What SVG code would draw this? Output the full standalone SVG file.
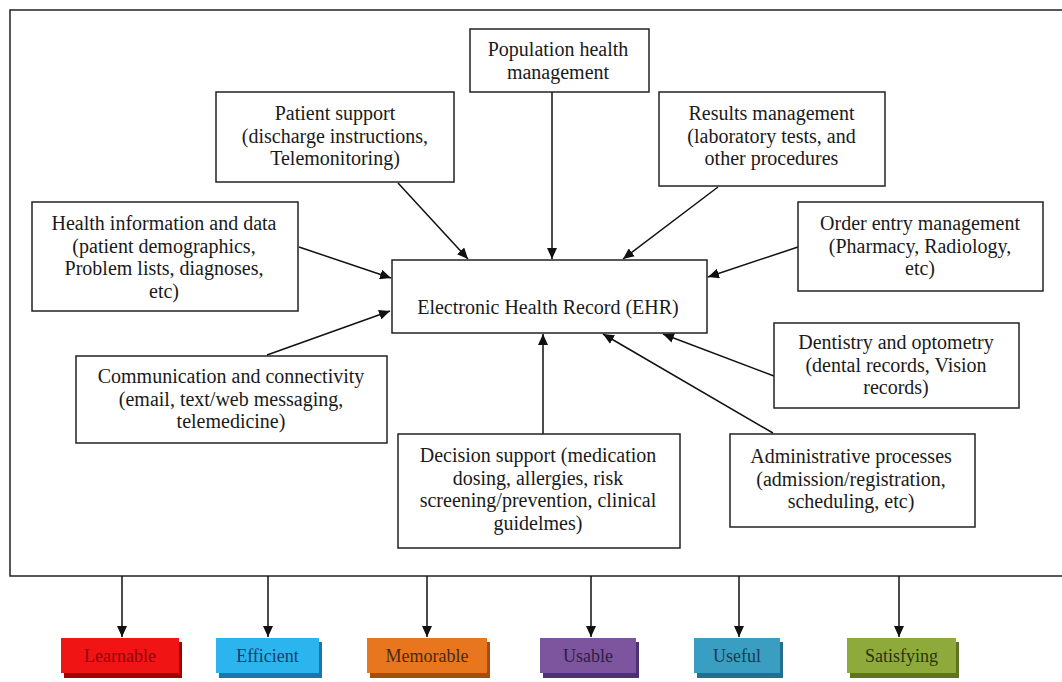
<svg xmlns="http://www.w3.org/2000/svg" width="1062" height="682" viewBox="0 0 1062 682">
<style>
.box{fill:#fff;stroke:#222;stroke-width:1.5}
.t{font-family:"Liberation Serif","Times New Roman",serif;font-size:20px;fill:#1a1a1a;text-anchor:middle}
.c{stroke:#111;stroke-width:1.5;fill:none;marker-end:url(#ah)}
.bt{font-family:"Liberation Serif","Times New Roman",serif;font-size:18px;text-anchor:middle}
</style>
<defs>
<marker id="ah" markerUnits="userSpaceOnUse" markerWidth="12" markerHeight="10" refX="11" refY="5" orient="auto">
<path d="M0,0 L11,5 L0,10 z" fill="#111"/>
</marker>
</defs>
<rect x="0" y="0" width="1062" height="682" fill="#fff"/>
<path d="M1064,10 H10 V576 H1064" fill="none" stroke="#222" stroke-width="1.5"/>

<g id="connectors">
<line class="c" x1="398" y1="183" x2="468" y2="259"/>
<line class="c" x1="552" y1="92" x2="552" y2="259"/>
<line class="c" x1="718" y1="187" x2="623" y2="259"/>
<line class="c" x1="798" y1="247" x2="708" y2="277"/>
<line class="c" x1="299" y1="247" x2="391" y2="278"/>
<line class="c" x1="267" y1="355" x2="390" y2="311"/>
<line class="c" x1="543" y1="434" x2="543" y2="334"/>
<line class="c" x1="773" y1="433" x2="603" y2="334"/>
<line class="c" x1="774" y1="376" x2="663" y2="334"/>
<line class="c" x1="122" y1="576" x2="122" y2="637"/>
<line class="c" x1="268" y1="576" x2="268" y2="637"/>
<line class="c" x1="427" y1="576" x2="427" y2="637"/>
<line class="c" x1="591" y1="576" x2="591" y2="637"/>
<line class="c" x1="739" y1="576" x2="739" y2="637"/>
<line class="c" x1="899" y1="576" x2="899" y2="637"/>
</g>

<g id="ehr">
<rect class="box" x="392" y="260" width="315" height="73"/>
<text class="t" x="548" y="314">Electronic Health Record (EHR)</text>
</g>
<g id="population">
<rect class="box" x="470" y="29" width="179" height="63"/>
<text class="t" x="558" y="56">Population health</text>
<text class="t" x="558" y="78.5">management</text>
</g>
<g id="patient">
<rect class="box" x="216" y="92" width="238" height="90"/>
<text class="t" x="335" y="120">Patient support</text>
<text class="t" x="335" y="142.5">(discharge instructions,</text>
<text class="t" x="335" y="165">Telemonitoring)</text>
</g>
<g id="results">
<rect class="box" x="659" y="92" width="226" height="94"/>
<text class="t" x="771.5" y="120">Results management</text>
<text class="t" x="771.5" y="142.5">(laboratory tests, and</text>
<text class="t" x="771.5" y="165">other procedures</text>
</g>
<g id="healthinfo">
<rect class="box" x="32" y="202" width="266" height="109"/>
<text class="t" x="164" y="230">Health information and data</text>
<text class="t" x="164" y="252.5">(patient demographics,</text>
<text class="t" x="164" y="275">Problem lists, diagnoses,</text>
<text class="t" x="164" y="297.5">etc)</text>
</g>
<g id="orderentry">
<rect class="box" x="798" y="202" width="245" height="89"/>
<text class="t" x="920" y="230">Order entry management</text>
<text class="t" x="920" y="252.5">(Pharmacy, Radiology,</text>
<text class="t" x="920" y="275">etc)</text>
</g>
<g id="communication">
<rect class="box" x="76" y="356" width="311" height="87"/>
<text class="t" x="231" y="383">Communication and connectivity</text>
<text class="t" x="231" y="405.5">(email, text/web messaging,</text>
<text class="t" x="231" y="428">telemedicine)</text>
</g>
<g id="dentistry">
<rect class="box" x="774" y="323" width="245" height="85"/>
<text class="t" x="896" y="349">Dentistry and optometry</text>
<text class="t" x="896" y="371.5">(dental records, Vision</text>
<text class="t" x="896" y="394">records)</text>
</g>
<g id="decision">
<rect class="box" x="398" y="434" width="282" height="114"/>
<text class="t" x="538" y="462">Decision support (medication</text>
<text class="t" x="538" y="484.5">dosing, allergies, risk</text>
<text class="t" x="538" y="507">screening/prevention, clinical</text>
<text class="t" x="538" y="529.5">guidelmes)</text>
</g>
<g id="administrative">
<rect class="box" x="730" y="434" width="245" height="93"/>
<text class="t" x="851" y="463">Administrative processes</text>
<text class="t" x="851" y="485.5">(admission/registration,</text>
<text class="t" x="851" y="508">scheduling, etc)</text>
</g>

<g id="learnable">
<rect x="64" y="642" width="118" height="36" fill="#a00000"/>
<rect x="61" y="638" width="118" height="35" fill="#f01414"/>
<text class="bt" x="120" y="662" fill="#8a0a0a">Learnable</text>
</g>
<g id="efficient">
<rect x="219" y="642" width="103" height="36" fill="#1a78a8"/>
<rect x="216" y="638" width="103" height="35" fill="#2cb4ee"/>
<text class="bt" x="267.5" y="662" fill="#1c3c70">Efficient</text>
</g>
<g id="memorable">
<rect x="370" y="642" width="120" height="36" fill="#a24e12"/>
<rect x="367" y="638" width="120" height="35" fill="#e8761e"/>
<text class="bt" x="427" y="662" fill="#4a2a10">Memorable</text>
</g>
<g id="usable">
<rect x="543" y="642" width="96" height="36" fill="#4c3270"/>
<rect x="540" y="638" width="96" height="35" fill="#7d549e"/>
<text class="bt" x="588" y="662" fill="#2e1e45">Usable</text>
</g>
<g id="useful">
<rect x="697" y="642" width="86" height="36" fill="#256e8e"/>
<rect x="694" y="638" width="86" height="35" fill="#3a9dc2"/>
<text class="bt" x="737" y="662" fill="#1a3a50">Useful</text>
</g>
<g id="satisfying">
<rect x="850" y="642" width="109" height="36" fill="#5e7424"/>
<rect x="847" y="638" width="109" height="35" fill="#8daa3b"/>
<text class="bt" x="901.5" y="662" fill="#2b3410">Satisfying</text>
</g>
</svg>
